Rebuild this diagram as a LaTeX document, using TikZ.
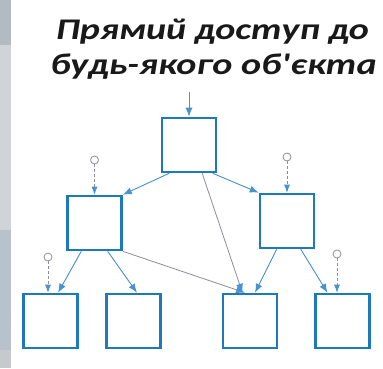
\documentclass[tikz,border=0pt]{standalone}
\usepackage{fontspec}
\setmainfont{Carlito}
\usetikzlibrary{arrows.meta,calc}
\definecolor{boxblue}{HTML}{1E78C0}
\definecolor{lineblue}{HTML}{4A92CC}
\definecolor{greyline}{HTML}{8C8E9C}
\definecolor{stripA}{HTML}{B2BAC2}
\definecolor{stripB}{HTML}{D0D4D8}
\definecolor{stripC}{HTML}{B8C2CC}
\definecolor{stripD}{HTML}{C6CACE}
\newcommand{\wide}[1]{\scalebox{1.27}[1]{#1}}
\begin{document}
\begin{tikzpicture}[x=1pt,y=1pt,
  obj/.style={draw=boxblue,line width=2.6pt,minimum width=54pt,minimum height=54pt,inner sep=0pt},
  tip/.style={-{Latex[length=9pt,width=7pt]}},
  link/.style={draw=lineblue,line width=0.9pt,tip,fill=lineblue},
  greylink/.style={draw=greyline,line width=0.8pt,-{Latex[length=9pt,width=7pt,fill=lineblue,color=lineblue]}},
  ptr/.style={draw=greyline,line width=0.8pt,densely dashed,-{Latex[length=8pt,width=6pt,fill=lineblue,color=lineblue]}},
  ref/.style={draw=greyline,line width=0.8pt,circle,minimum size=8pt,inner sep=0pt},
  title/.style={font=\fontsize{30}{36}\selectfont\bfseries\itshape,text=black!90,inner sep=0pt,anchor=base}]
\useasboundingbox (0,0) rectangle (383,368);
\fill[white] (0,0) rectangle (383,368);
% grey side strip
\fill[stripA] (0,323) rectangle (11,368);
\fill[stripB] (0,138) rectangle (11,323);
\fill[stripC] (0,18) rectangle (11,138);
\fill[stripD] (0,0) rectangle (11,18);

% heading
\node[title] (t1) at (212.5,329) {\wide{Прямий доступ до}};
\node[title] (t2) at (213.5,294) {\wide{будь-якого об\textquotesingle єкта}};

% objects
\node[obj] (top) at (189,223) {};
\node[obj] (ml) at (94.5,145) {};
\node[obj] (mr) at (287,147) {};
\node[obj] (b1) at (50.5,47) {};
\node[obj] (b2) at (133.5,47) {};
\node[obj] (b3) at (250,47) {};
\node[obj] (b4) at (342.5,47) {};

% external references
\coordinate (in) at (189,276);
\node[ref] (cml) at (94.5,208) {};
\node[ref] (cmr) at (287,211) {};
\node[ref] (cb1) at (48,111) {};
\node[ref] (cb4) at (337,114) {};

\draw[link] (in) -- (top.north);
\draw[ptr] (cml) -- (ml.north);
\draw[ptr] (cmr) -- (mr.north);
\draw[ptr] (cb1) -- (cb1 |- b1.north);
\draw[ptr] (cb4) -- (cb4 |- b4.north);

% links between objects
\draw[link] (top.-125) -- (ml.45);
\draw[link] (top.-50) -- (mr.135);
\draw[greylink] (top.-65) -- (b3.105);
\draw[link] (ml.-115) -- (b1.75);
\draw[link] (ml.-65) -- (b2.83);
\draw[greylink] (ml.south east) -- (b3.100);
\draw[link] (mr.-110) -- (b3.80);
\draw[link] (mr.-64) -- (b4.118);
\end{tikzpicture}
\end{document}
